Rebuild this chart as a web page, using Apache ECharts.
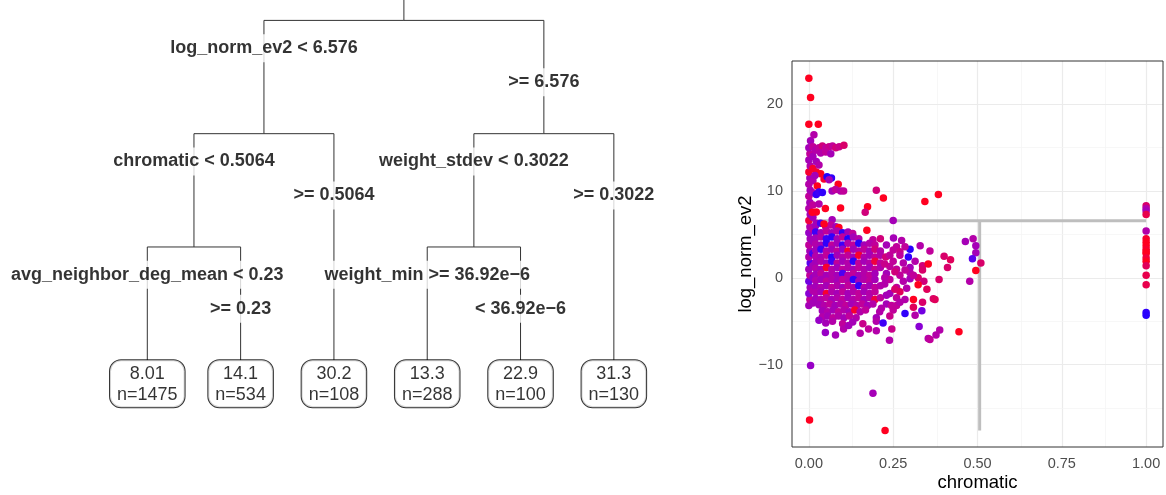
<!DOCTYPE html>
<html><head><meta charset="utf-8">
<script src="https://cdn.jsdelivr.net/npm/echarts@6/dist/echarts.min.js"></script>
<style>html,body{margin:0;padding:0;background:#fff}#c{width:1166px;height:495px}</style>
</head><body><div id="c"></div>
<script>
// ---------- Tree data ----------
const nodeIds     = ['root','L','R','LL','LR','RL','RR','LLL','LLR','RLL','RLR'];
const nodeParents = [null,'root','root','L','L','R','R','LL','LL','RL','RL'];
const nodeX       = [3.75, 2.25, 5.25, 1.5, 3, 4.5, 6, 1, 2, 4, 5];
const nodeDepth   = [0, 1, 1, 2, 3, 2, 3, 3, 3, 3, 3];
const nodeSide    = [null,'left','right','left','right','left','right','left','right','left','right'];
const edgeLabels  = ['', 'log_norm_ev2 < 6.576', '>= 6.576', 'chromatic < 0.5064', '>= 0.5064',
                     'weight_stdev < 0.3022', '>= 0.3022', 'avg_neighbor_deg_mean < 0.23', '>= 0.23',
                     'weight_min >= 36.92e\u22126', '< 36.92e\u22126'];
const leafIds   = ['LLL','LLR','LR','RLL','RLR','RR'];
const leafMeans = ['8.01','14.1','30.2','13.3','22.9','31.3'];
const leafNs    = [1475, 534, 108, 288, 100, 130];

// ---------- Scatter data: [chromatic, log_norm_ev2, colour (0 blue .. 1 red)] ----------
const columnPoints = [
 [0.000,-3.2,.5],[0.003,-2.5,.6],[0.000,-1.8,.4],[0.004,-1.1,.5],[0.000,-0.4,.3],[0.003,0.3,.6],[0.000,1.0,.5],
 [0.004,1.7,.2],[0.000,2.4,.55],[0.003,3.1,.5],[0.000,3.8,.6],[0.004,4.5,.5],[0.000,5.2,.45],[0.003,5.9,.55],
 [0.000,6.6,.9],[0.004,7.3,.5],[0.000,8.0,.55],[0.003,8.7,.5],[0.000,9.4,.6],[0.004,10.1,.5],[0.000,10.8,.55],
 [0.003,11.5,.5],[0.000,12.2,.95],[0.004,12.9,.55],[0.000,13.6,.5],[0.003,14.3,.6],[0.000,15.0,.5],[0.005,15.8,.5],
 [0.015,16.5,.55],[0.000,17.7,1],[0.028,17.7,1],[0.005,20.8,1],[0.000,23.0,1],
 [0.012,-2.9,.5],[0.012,-1.5,.55],[0.012,0.0,.45],[0.012,1.4,.5],[0.012,2.8,.15],[0.012,4.2,.5],[0.012,5.6,.6],
 [0.012,7.0,.5],[0.012,8.4,.6],[0.012,9.8,.5],[0.012,11.2,.55],[0.012,12.6,.95],[0.012,14.0,.5],[0.012,15.1,.6],
 [0.022,6.3,.5],[0.022,7.6,1],[0.022,9.6,.05],[0.025,10.6,1],[0.022,12.2,.95],[0.022,13.4,.5],[0.020,14.7,.55]
];
const upperPoints = [
 [0.03,15.0,.6],[0.04,15.2,.7],[0.05,15.0,.6],[0.06,15.1,.65],[0.07,15.2,.6],[0.08,15.0,.7],[0.09,15.1,.65],
 [0.104,15.3,.75],[0.035,14.4,.55],[0.05,14.5,.6],[0.065,14.3,.5],
 [0.035,12.0,1],[0.045,11.4,.95],[0.054,11.66,0],[0.067,11.5,.05],[0.06,11.3,.5],[0.087,10.8,1],[0.03,9.9,.1],
 [0.04,9.85,.05],[0.069,10.0,.5],[0.079,10.2,.6],[0.094,10.0,.55],[0.103,10.0,.6],[0.2,10.1,.7],[0.221,9.2,1],
 [0.174,8.2,1],[0.167,7.55,.7],[0.094,8.05,1],[0.049,8.0,1],[0.01,7.55,1],[0.069,6.7,.5],[0.25,6.6,.5],
 [0.344,8.8,1],[0.384,9.6,1],[0.03,8.5,.55],[0.018,11.8,.5],[0.03,13.0,.55]
];
const densePoints = [
 [0.02,6.0,.5],[0.035,6.3,.15],[0.05,5.9,.55],[0.065,6.1,.6],[0.08,5.9,.5],[0.045,6.2,1],[0.089,5.8,1],
 [0.02,5.3,.1],[0.036,5.2,.5],[0.052,5.4,.6],[0.068,5.2,.5],[0.084,5.4,.55],[0.1,5.2,.05],[0.116,5.3,.5],[0.13,5.1,.6],[0.172,5.5,1],
 [0.02,4.6,.5],[0.036,4.7,.55],[0.052,4.5,.1],[0.068,4.7,.05],[0.084,4.5,.5],[0.1,4.7,.6],[0.116,4.5,0],[0.132,4.7,.5],
 [0.148,4.5,.55],[0.19,4.4,.6],[0.212,4.5,.7],[0.251,4.6,.5],[0.275,4.3,.55],
 [0.02,3.9,.55],[0.036,3.8,.5],[0.052,4.0,.05],[0.068,3.8,.6],[0.084,4.0,.5],[0.1,3.8,.1],[0.116,4.0,.55],[0.132,3.8,.6],
 [0.148,4.0,.02],[0.164,3.8,.5],[0.18,4.0,.55],[0.196,3.8,.6],[0.23,3.8,.5],[0.26,3.6,.6],[0.3,3.3,.02],[0.33,3.7,.55],[0.359,3.1,.6],
 [0.02,3.2,.5],[0.036,3.3,.1],[0.052,3.1,.55],[0.068,3.3,.5],[0.084,3.1,.6],[0.1,3.3,.45],[0.116,3.1,.95],[0.132,3.3,.5],
 [0.148,3.1,.55],[0.164,3.3,.6],[0.18,3.1,.5],[0.196,3.3,.7],[0.212,3.1,.55],[0.25,3.2,.6],[0.27,3.0,.65],
 [0.02,2.5,.55],[0.036,2.4,.5],[0.052,2.6,.6],[0.068,2.4,.02],[0.084,2.6,.5],[0.1,2.4,.55],[0.116,2.6,.6],[0.132,2.4,.5],
 [0.148,2.6,.95],[0.164,2.4,.55],[0.18,2.6,.5],[0.196,2.4,.6],[0.212,2.6,.55],[0.228,2.4,.7],[0.24,2.6,.6],[0.27,2.6,.6],
 [0.295,2.4,.05],[0.401,2.5,.75],[0.42,2.1,.8],
 [0.02,1.8,.5],[0.036,1.9,.55],[0.052,1.7,.5],[0.068,1.9,.1],[0.084,1.7,.6],[0.1,1.9,.5],[0.116,1.7,.55],[0.132,1.9,.05],
 [0.148,1.7,.6],[0.164,1.9,.5],[0.18,1.7,.55],[0.196,1.9,.9],[0.212,1.7,.6],[0.25,1.9,.6],[0.28,1.7,.55],[0.337,1.4,.7],
 [0.354,1.6,1],[0.411,1.2,.75],
 [0.02,1.1,.55],[0.036,1.0,.5],[0.052,1.2,.95],[0.068,1.0,.55],[0.084,1.2,.5],[0.1,1.0,.6],[0.116,1.2,.55],[0.132,1.0,.5],
 [0.148,1.2,.6],[0.164,1.0,.55],[0.18,1.2,.5],[0.196,1.0,.65],[0.212,1.2,.55],[0.26,1.0,.6],[0.3,1.2,.5],[0.337,0.9,.75],
 [0.02,0.4,.5],[0.036,0.5,.6],[0.052,0.3,.5],[0.068,0.5,.55],[0.084,0.3,.5],[0.1,0.5,.15],[0.116,0.3,.55],[0.132,0.5,.6],
 [0.148,0.3,.5],[0.164,0.5,.55],[0.18,0.3,.6],[0.196,0.5,.5],[0.23,0.5,.5],[0.27,0.3,.6],[0.3,0.6,.55],[0.324,0.0,.75],
 [0.02,-0.3,.55],[0.036,-0.2,.5],[0.052,-0.4,.6],[0.068,-0.2,.55],[0.084,-0.4,.5],[0.1,-0.2,.6],[0.116,-0.4,.55],[0.132,-0.2,.05],
 [0.148,-0.4,.5],[0.164,-0.2,.55],[0.18,-0.4,.6],[0.196,-0.2,.5],[0.24,-0.2,.6],[0.28,-0.4,.55],[0.3,-0.1,.5],[0.341,-0.4,.7],[0.386,-0.2,.75],
 [0.02,-1.0,.5],[0.036,-1.1,.55],[0.052,-0.9,.5],[0.068,-1.1,.6],[0.084,-0.9,.55],[0.1,-1.1,.5],[0.116,-0.9,.6],[0.132,-1.1,.55],
 [0.148,-0.9,.05],[0.164,-1.1,.55],[0.18,-0.9,.5],[0.196,-1.1,.6],[0.212,-0.9,.55],[0.26,-1.1,.6],[0.324,-0.8,1],[0.35,-1.3,.8],
 [0.02,-1.7,.55],[0.036,-1.6,.5],[0.052,-1.8,.95],[0.068,-1.6,.55],[0.084,-1.8,.5],[0.1,-1.6,.6],[0.116,-1.8,.5],[0.132,-1.6,.55],
 [0.148,-1.8,.6],[0.164,-1.6,.5],[0.18,-1.8,.55],[0.196,-1.6,.6],[0.24,-1.8,.5],[0.27,-1.6,.8],
 [0.02,-2.4,.5],[0.036,-2.5,.55],[0.052,-2.3,.6],[0.068,-2.5,.5],[0.084,-2.3,.55],[0.1,-2.5,.6],[0.116,-2.3,.5],[0.132,-2.5,.55],
 [0.148,-2.3,.6],[0.164,-2.5,.5],[0.18,-2.3,.55],[0.196,-2.5,.9],[0.212,-2.3,.6],[0.26,-2.3,.6],[0.285,-2.5,.55],[0.31,-2.5,1],
 [0.337,-2.8,.75],[0.369,-2.4,.75],[0.374,-2.5,.8],
 [0.03,-3.1,.5],[0.046,-3.2,.55],[0.062,-3.0,.6],[0.078,-3.2,.5],[0.094,-3.0,.55],[0.11,-3.2,.6],[0.126,-3.0,.5],[0.142,-3.2,.55],
 [0.158,-3.0,.6],[0.174,-3.2,.5],[0.19,-3.0,.55],[0.23,-3.0,.5],[0.26,-3.2,.6],[0.31,-3.4,.8],
 [0.04,-3.8,.5],[0.056,-3.9,.55],[0.072,-3.7,.5],[0.088,-3.9,.6],[0.104,-3.7,.55],[0.12,-3.9,.5],[0.136,-3.7,.95],[0.152,-3.9,.55],
 [0.168,-3.7,.6],[0.21,-3.9,.55],[0.25,-3.7,.6],[0.285,-4.1,.05],[0.335,-3.8,.3],
 [0.04,-4.5,.55],[0.056,-4.4,.5],[0.072,-4.6,.6],[0.088,-4.4,.55],[0.104,-4.6,.5],[0.12,-4.4,.6],[0.14,-4.6,.55],[0.2,-4.6,.5],
 [0.24,-4.4,.65],[0.315,-4.3,.55],
 [0.03,-4.9,.45],[0.05,-5.2,.5],[0.07,-5.0,.55],[0.1,-5.3,.6],[0.13,-5.1,.5],[0.16,-5.3,.65],[0.2,-5.0,.55],[0.22,-5.2,.1],
 [0.103,-5.9,.55],[0.118,-5.5,.5],[0.177,-5.9,.6],[0.2,-6.1,.55],[0.246,-5.9,.65],[0.327,-5.6,.4],[0.388,-6.0,.55],[0.445,-6.2,1],
 [0.049,-6.3,.45],[0.079,-6.6,.5],[0.152,-6.4,.55],[0.239,-7.2,.55],[0.354,-7.0,.55],[0.359,-7.1,.6],[0.377,-6.6,.55],
 [0.225,0.0,.55],[0.255,0.7,.7],[0.24,1.3,.6],[0.225,-0.7,.55],[0.285,0.9,.6],[0.29,-1.2,.55],[0.255,-1.3,.75],[0.225,1.6,.65],
 [0.23,-2.0,.5],[0.27,-2.8,.55],[0.245,-3.2,.6],[0.215,-3.5,.55],[0.31,0.3,.6],[0.315,1.9,.55],[0.285,3.6,.6]
];
const halfPoints = [
 [0.464,4.2,.5],[0.487,4.5,.55],[0.495,3.7,.5],[0.495,2.9,.5],[0.485,2.2,.2],[0.51,1.7,.75],[0.495,0.85,1],[0.477,-0.4,.55]
];
const outlierPoints = [[0.005,-10.1,.45],[0.19,-13.3,.5],[0.002,-16.4,1],[0.226,-17.6,1]];
const onePoints = [
 [1,8.3,.75],[1,8.0,.55],[1,7.7,.5],[1,7.3,.85],[1,5.4,.55],[1,4.5,.95],[1,4.1,1],[1,3.7,1],[1,3.3,.95],[1,3.0,1],
 [1,2.8,1],[1,2.3,.9],[1,1.9,1],[1,1.4,.8],[1,0.3,.85],[1,-0.8,.85],[1,-4.0,.05],[1,-4.3,.02]
];

// split lines of the tree drawn in the scatter
const splitChromatic = 0.5064;
const splitEv2 = 6.576;
const chromaticRange = [0, 1];
const ev2Min = -17.6;

// axis ticks
const xTicks = [0, 0.25, 0.5, 0.75, 1];
const xMinor = [0.125, 0.375, 0.625, 0.875];
const yTicks = [-10, 0, 10, 20];
const yMinor = [-15, -5, 5, 15];

// ---------- build ----------
const FONT = 'Liberation Sans, Arial, Helvetica, sans-serif';
const idx = id => nodeIds.indexOf(id);

const edges = [];
const edgeLabelData = [];
nodeIds.forEach((id, i) => {
  const p = nodeParents[i];
  if (p === null) {
    edges.push({coords: [[nodeX[i], -0.2], [nodeX[i], nodeDepth[i]]]});
    return;
  }
  const pi = idx(p);
  edges.push({coords: [[nodeX[pi], nodeDepth[pi]], [nodeX[i], nodeDepth[pi]], [nodeX[i], nodeDepth[i]]]});
  const off = nodeSide[i] === 'left' ? 0.245 : 0.545;
  edgeLabelData.push([nodeX[i], nodeDepth[pi] + off, edgeLabels[i]]);
});
const leafData = leafIds.map((id, k) => {
  const i = idx(id);
  return [nodeX[i], nodeDepth[i], leafMeans[k] + '\nn=' + leafNs[k]];
});

const allPoints = [].concat(columnPoints, upperPoints, densePoints, halfPoints, outlierPoints, onePoints);

const gridLines = [];
xTicks.forEach(v => gridLines.push({xAxis: v, lineStyle: {color: '#ebebeb', width: 1.2, type: 'solid'}}));
xMinor.forEach(v => gridLines.push({xAxis: v, lineStyle: {color: '#f3f3f3', width: 0.7, type: 'solid'}}));
yTicks.forEach(v => gridLines.push({yAxis: v, lineStyle: {color: '#ebebeb', width: 1.2, type: 'solid'}}));
yMinor.forEach(v => gridLines.push({yAxis: v, lineStyle: {color: '#f3f3f3', width: 0.7, type: 'solid'}}));

const fmtNum = v => (v < 0 ? '\u2212' + Math.abs(v) : String(v));

const chart = echarts.init(document.getElementById('c'), null, {renderer: 'canvas'});
chart.setOption({
  animation: false,
  backgroundColor: '#fff',
  grid: [
    {left: 792, top: 61, width: 371, height: 386, show: true, borderColor: '#333', borderWidth: 1,
     backgroundColor: 'transparent', z: 5, containLabel: false, outerBoundsMode: 'none'},
    {left: 54, top: 0, width: 606.5, height: 388.6, show: false, containLabel: false, outerBoundsMode: 'none'}
  ],
  xAxis: [
    {gridIndex: 0, type: 'value', min: -0.05, max: 1.05,
     name: 'chromatic', nameLocation: 'middle', nameGap: 26, nameMoveOverlap: false,
     nameTextStyle: {fontSize: 18.5, color: '#000', fontFamily: FONT, verticalAlign: 'top'},
     axisLine: {show: false},
     axisTick: {show: true, length: 4, customValues: xTicks, lineStyle: {color: '#333', width: 1}},
     axisLabel: {customValues: xTicks, formatter: v => v.toFixed(2), fontSize: 14.5, color: '#4d4d4d', fontFamily: FONT, margin: 9},
     splitLine: {show: false}},
    {gridIndex: 1, type: 'value', min: 0, max: 6.5, show: false}
  ],
  yAxis: [
    {gridIndex: 0, type: 'value', min: -19.5, max: 25,
     name: 'log_norm_ev2', nameLocation: 'middle', nameGap: 37, nameRotate: 90, nameMoveOverlap: false,
     nameTextStyle: {fontSize: 18.5, color: '#000', fontFamily: FONT},
     axisLine: {show: false},
     axisTick: {show: true, length: 4, customValues: yTicks, lineStyle: {color: '#333', width: 1}},
     axisLabel: {customValues: yTicks, formatter: fmtNum, fontSize: 14.5, color: '#4d4d4d', fontFamily: FONT, margin: 9},
     splitLine: {show: false}},
    {gridIndex: 1, type: 'value', min: -0.18, max: 3.25, inverse: true, show: false}
  ],
  visualMap: {
    type: 'continuous', show: false, seriesIndex: 3, dimension: 2, min: 0, max: 1,
    inRange: {color: ['#2200ff', '#5a00ee', '#8a00d4', '#c0009a', '#e0005a', '#ff0020']}
  },
  series: [
    {type: 'line', xAxisIndex: 0, yAxisIndex: 0, data: [], silent: true, z: 1,
     markLine: {silent: true, z: 1, symbol: ['none', 'none'], label: {show: false}, animation: false, data: gridLines}},
    {type: 'line', xAxisIndex: 0, yAxisIndex: 0, silent: true, z: 2, symbol: 'none',
     lineStyle: {color: '#bebebe', width: 3}, data: [[chromaticRange[0], splitEv2], [chromaticRange[1], splitEv2]]},
    {type: 'line', xAxisIndex: 0, yAxisIndex: 0, silent: true, z: 2, symbol: 'none',
     lineStyle: {color: '#bebebe', width: 3}, data: [[splitChromatic, splitEv2], [splitChromatic, ev2Min]]},
    {type: 'scatter', xAxisIndex: 0, yAxisIndex: 0, data: allPoints, symbolSize: 7.5, silent: true, z: 3,
     itemStyle: {opacity: 1}},
    {type: 'lines', coordinateSystem: 'cartesian2d', xAxisIndex: 1, yAxisIndex: 1, polyline: true, silent: true, z: 2,
     lineStyle: {color: '#333', width: 1, opacity: 1}, data: edges},
    {type: 'scatter', xAxisIndex: 1, yAxisIndex: 1, symbolSize: 0, silent: true, z: 10, data: edgeLabelData,
     itemStyle: {color: 'transparent'},
     label: {show: true, position: 'inside', formatter: p => p.value[2], fontFamily: FONT, fontSize: 18,
             fontWeight: 'bold', color: '#000', backgroundColor: '#fff', padding: [4, 2], lineHeight: 20}},
    {type: 'scatter', xAxisIndex: 1, yAxisIndex: 1, symbolSize: 0, silent: true, z: 10, data: leafData,
     itemStyle: {color: 'transparent'},
     label: {show: true, position: 'bottom', distance: 0, formatter: p => p.value[2], fontFamily: FONT, fontSize: 18,
             color: '#000', backgroundColor: '#fff', borderColor: '#000', borderWidth: 1, borderRadius: 11,
             padding: [3, 7, 2, 7], lineHeight: 21, align: 'center'}}
  ]
});
</script></body></html>
